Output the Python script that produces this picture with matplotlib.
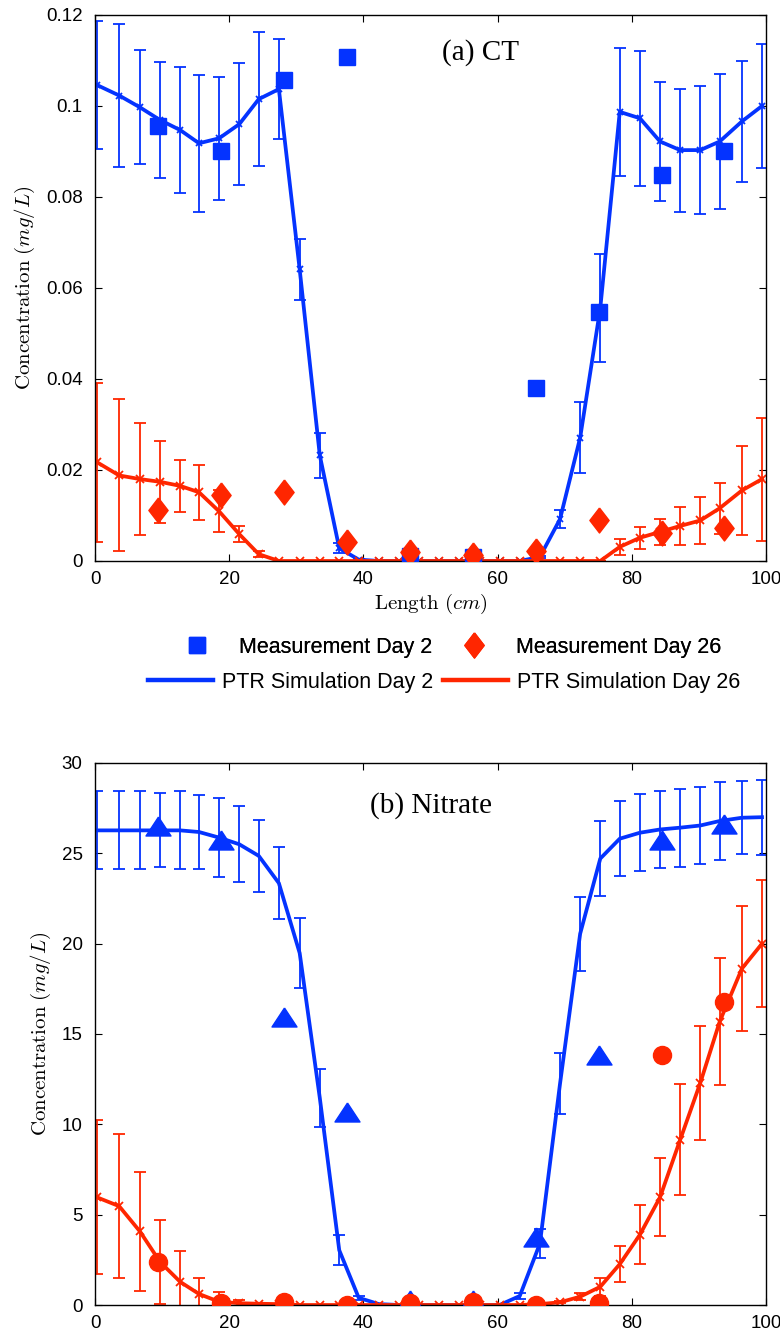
import matplotlib
matplotlib.use('Agg')
import matplotlib.pyplot as plt
from matplotlib.lines import Line2D

plt.rcParams['font.family'] = ['Liberation Sans', 'DejaVu Sans']
plt.rcParams['mathtext.fontset'] = 'cm'

blue = '#0433FF'
red = '#FF2600'

# simulation grid (cm)
x_sim = [0.3, 3.6, 6.7, 9.7, 12.7, 15.5, 18.5, 21.5, 24.4, 27.4, 30.5, 33.5,
         36.4, 39.3, 42.3, 45.3, 48.3, 51.3, 54.3, 57.3, 60.3, 63.3, 66.3, 69.3,
         72.3, 75.3, 78.2, 81.2, 84.2, 87.2, 90.2, 93.1, 96.4, 99.4]
# measurement ports (cm)
x_meas = [9.4, 18.8, 28.2, 37.5, 46.9, 56.3, 65.7, 75.1, 84.5, 93.8]

# (a) CT
ct_sim_d2 = [0.1046, 0.1023, 0.0997, 0.0969, 0.0947, 0.0918, 0.0929, 0.0960, 0.1015,
             0.1037, 0.0641, 0.0232, 0.0028, 0.0003, 0, 0, 0, 0, 0, 0, 0, 0,
             0.0009, 0.0092, 0.0271, 0.0556, 0.0987, 0.0973, 0.0922, 0.0903,
             0.0903, 0.0922, 0.0966, 0.1000]
ct_sim_d2_err = [0.014, 0.0158, 0.0125, 0.0127, 0.0138, 0.015, 0.0135, 0.0134, 0.0147,
                 0.011, 0.0067, 0.005, 0.0011, 0.0002, 0, 0, 0, 0, 0, 0, 0, 0,
                 0.0003, 0.002, 0.0078, 0.0118, 0.014, 0.0148, 0.013, 0.0135,
                 0.014, 0.0149, 0.0132, 0.0137]
ct_sim_d26 = [0.0217, 0.0188, 0.0180, 0.0174, 0.0165, 0.0151, 0.0109, 0.0059, 0.0015,
              0, 0, 0, 0, 0, 0, 0, 0, 0, 0, 0, 0, 0, 0, 0, 0, 0,
              0.0031, 0.0051, 0.0064, 0.0077, 0.0089, 0.0116, 0.0155, 0.0180]
ct_sim_d26_err = [0.0175, 0.0167, 0.0123, 0.009, 0.0058, 0.0061, 0.0046, 0.0018, 0.0006,
                  0, 0, 0, 0, 0, 0, 0, 0, 0, 0, 0, 0, 0, 0, 0, 0, 0,
                  0.0017, 0.0024, 0.0028, 0.0041, 0.0052, 0.0056, 0.0097, 0.0135]
ct_meas_d2 = [0.0956, 0.0900, 0.1056, 0.1108, 0.0012, 0.0008, 0.0381, 0.0548, 0.0848, 0.0900]
ct_meas_d26 = [0.0112, 0.0145, 0.0151, 0.0041, 0.0020, 0.0013, 0.0023, 0.0090, 0.0061, 0.0072]

# (b) Nitrate
no3_sim_d2 = [26.27, 26.27, 26.27, 26.27, 26.27, 26.18, 25.87, 25.5, 24.86, 23.35,
              19.48, 11.46, 3.03, 0.4, 0.05, 0, 0, 0, 0, 0, 0, 0.5, 3.4, 12.25,
              20.55, 24.71, 25.81, 26.14, 26.32, 26.42, 26.54, 26.79, 26.97, 27.0]
no3_sim_d2_err = [2.16, 2.16, 2.16, 2.05, 2.16, 2.05, 2.2, 2.1, 2.0, 2.0,
                  1.95, 1.63, 0.83, 0.1, 0, 0, 0, 0, 0, 0, 0, 0.15, 0.8, 1.68,
                  2.05, 2.08, 2.06, 2.12, 2.14, 2.15, 2.13, 2.15, 2.02, 2.07]
no3_sim_d26 = [5.96, 5.47, 4.07, 2.38, 1.28, 0.61, 0.18, 0.1, 0.07, 0.05,
               0, 0, 0, 0, 0, 0, 0, 0, 0, 0, 0, 0,
               0.05, 0.15, 0.46, 1.01, 2.26, 3.89, 5.96, 9.14, 12.29, 15.69, 18.62, 20.0]
no3_sim_d26_err = [4.27, 4.0, 3.3, 2.35, 1.7, 0.86, 0.55, 0.15, 0.05, 0,
                   0, 0, 0, 0, 0, 0, 0, 0, 0, 0, 0, 0,
                   0, 0.05, 0.2, 0.5, 1.0, 1.63, 2.15, 3.07, 3.17, 3.5, 3.46, 3.5]
no3_meas_d2 = [26.54, 25.74, 15.96, 10.7, 0.3, 0.3, 3.76, 13.81, 25.74, 26.65]
no3_meas_d26 = [2.38, 0.09, 0.15, 0.0, 0.09, 0.15, 0.0, 0.09, 13.85, 16.75]

ct_yticks = [0, 0.02, 0.04, 0.06, 0.08, 0.1, 0.12]
ct_yticklabels = ['0', '0.02', '0.04', '0.06', '0.08', '0.1', '0.12']
no3_yticks = [0, 5, 10, 15, 20, 25, 30]
xticks = [0, 20, 40, 60, 80, 100]

# matlab-like markers
diamond = [(0, 1), (0.77, 0), (0, -1), (-0.77, 0), (0, 1)]
triangle = [(0, 0.76), (1, -0.76), (-1, -0.76), (0, 0.76)]

fig = plt.figure(figsize=(7.80, 13.36), dpi=100)
ax1 = fig.add_axes([0.1218, 0.5801, 0.8603, 0.4087])
ax2 = fig.add_axes([0.1218, 0.0232, 0.8603, 0.4057])


def sim(ax, y, err, color, ms):
    ax.errorbar(x_sim, y, yerr=err, color=color, lw=2.7, marker='x', ms=ms, mew=1.3,
                elinewidth=1.3, capsize=4, capthick=1.3, zorder=2)


def style(ax, yticks, ylabels, ylim):
    ax.set_xlim(0, 100)
    ax.set_ylim(*ylim)
    ax.set_xticks(xticks)
    ax.set_yticks(yticks)
    ax.set_yticklabels(ylabels)
    ax.tick_params(direction='in', top=True, right=True, length=5, width=0.8,
                   labelsize=13.5)
    ax.tick_params(axis='y', pad=9)
    ax.tick_params(axis='x', pad=7)
    for s in ax.spines.values():
        s.set_linewidth(1.0)
    ax.set_ylabel(r'$\mathrm{Concentration}\ (mg/L)$', fontsize=15, labelpad=6)


sim(ax1, ct_sim_d2, ct_sim_d2_err, blue, 5)
sim(ax1, ct_sim_d26, ct_sim_d26_err, red, 6)
ax1.plot(x_meas, ct_meas_d2, ls='none', marker='s', ms=11.5, color=blue, zorder=3)
ax1.plot(x_meas, ct_meas_d26, ls='none', marker=diamond, ms=18, color=red, zorder=4)
style(ax1, ct_yticks, ct_yticklabels, (0, 0.12))
ax1.set_xlabel(r'$\mathrm{Length}\ (cm)$', fontsize=15, labelpad=3)
ax1.text(0.574, 0.932, '(a) CT', transform=ax1.transAxes, ha='center', va='center',
         fontsize=21, family='Liberation Serif')

sim(ax2, no3_sim_d2, no3_sim_d2_err, blue, 0)
sim(ax2, no3_sim_d26, no3_sim_d26_err, red, 6)
ax2.plot(x_meas, no3_meas_d2, ls='none', marker=triangle, ms=18, color=blue, zorder=3)
ax2.plot(x_meas, no3_meas_d26, ls='none', marker='o', ms=13, color=red, zorder=4)
style(ax2, no3_yticks, [str(v) for v in no3_yticks], (0, 30))
ax2.text(0.5, 0.921, '(b) Nitrate', transform=ax2.transAxes, ha='center', va='center',
         fontsize=21, family='Liberation Serif')

# legend: two rows, drawn as two single-row legends (matlab offsets the marker row)
leg_kw = dict(ncol=2, frameon=False, fontsize=15.5, loc='center left', borderpad=0,
              borderaxespad=0, handlelength=3.0, handletextpad=0.42, columnspacing=0.47)
meas_handles = [Line2D([], [], ls='none', marker='s', ms=11.5, color=blue),
                Line2D([], [], ls='none', marker=diamond, ms=18, color=red)]
sim_handles = [Line2D([], [], color=blue, lw=3.2),
               Line2D([], [], color=red, lw=3.2)]
leg1 = fig.legend(meas_handles, ['Measurement Day 2', 'Measurement Day 26'],
                  bbox_to_anchor=(165 / 780, 0.5157), **leg_kw)
leg2 = fig.legend(sim_handles, ['PTR Simulation Day 2', 'PTR Simulation Day 26'],
                  bbox_to_anchor=(148 / 780, 0.4895), **leg_kw)
fig.add_artist(leg1)

fig.savefig('out.png', dpi=100)
